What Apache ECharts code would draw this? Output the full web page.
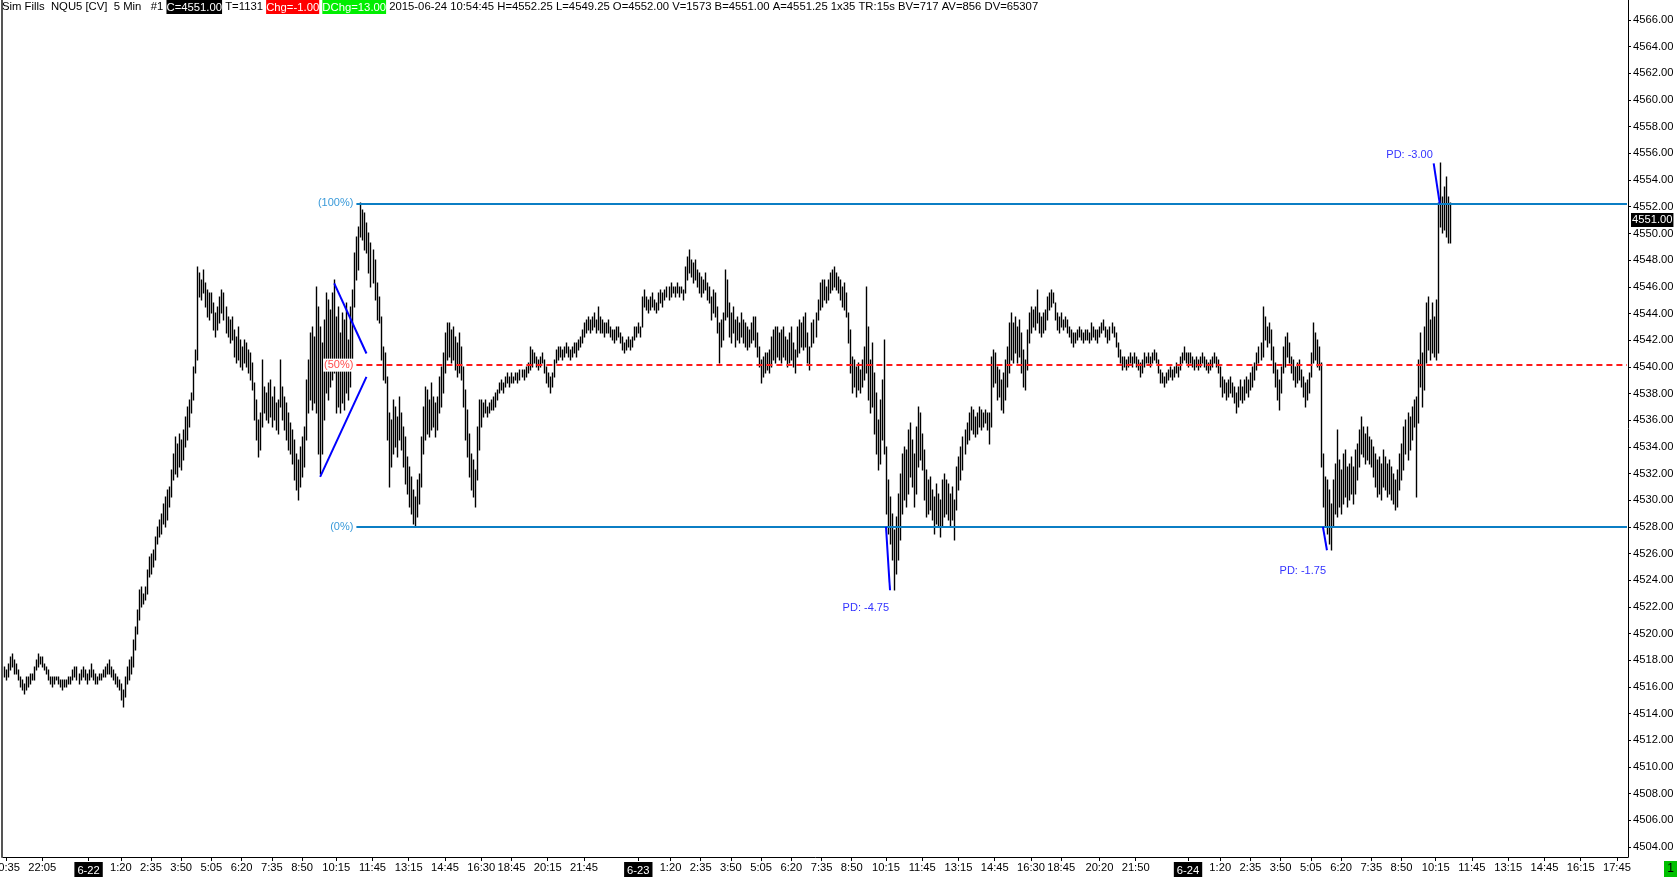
<!DOCTYPE html>
<html>
<head>
<meta charset="utf-8">
<title>NQU5 5 Min</title>
<script src="https://cdn.jsdelivr.net/npm/echarts@6/dist/echarts.min.js"></script>
<style>
html, body { margin: 0; padding: 0; background: #fff; }
#chartMain { width: 1679px; height: 877px; }
</style>
</head>
<body>
<div id="chartMain"></div>
<script>
var FONT = "'Liberation Sans', Arial, sans-serif";
var AXIS_SIZE = 11.2;

/*** 交易时段（5分钟K线，16:15-16:30 与 17:00-18:00 停盘） ***/
var sessions = [
    {day: '6-21', from: '20:30', to: '23:55', gaps: []},
    {day: '6-22', from: '0:00', to: '23:55', gaps: [['16:15', '16:25'], ['17:00', '17:55']]},
    {day: '6-23', from: '0:00', to: '23:55', gaps: [['16:15', '16:25'], ['17:00', '17:55']]},
    {day: '6-24', from: '0:00', to: '18:10', gaps: []}
];

// 底部时间刻度
var axisTimes = {
    '6-21': ['20:35', '22:05'],
    '6-22': ['0:00', '1:20', '2:35', '3:50', '5:05', '6:20', '7:35', '8:50', '10:15', '11:45', '13:15', '14:45', '16:30', '18:45', '20:15', '21:45'],
    '6-23': ['0:00', '1:20', '2:35', '3:50', '5:05', '6:20', '7:35', '8:50', '10:15', '11:45', '13:15', '14:45', '16:30', '18:45', '20:20', '21:50'],
    '6-24': ['0:00', '1:20', '2:35', '3:50', '5:05', '6:20', '7:35', '8:50', '10:15', '11:45', '13:15', '14:45', '16:15', '17:45']
};

// 右侧价格刻度
var priceTicks = [4504, 4506, 4508, 4510, 4512, 4514, 4516, 4518, 4520, 4522, 4524, 4526, 4528, 4530, 4532, 4534,
    4536, 4538, 4540, 4542, 4544, 4546, 4548, 4550, 4552, 4554, 4556, 4558, 4560, 4562, 4564, 4566];

/*** K线 [最低, 最高] ***/
var bars621 = [
[4516.75,4517.5],[4516.5,4517.25],[4516.75,4517.75],[4517.25,4518.25],[4517.5,4518.5],[4517,4518],[4517,4517.75],[4516.5,4517.25],[4516,4516.75],[4515.75,4516.5],
[4515.5,4516.25],[4515.75,4516.75],[4516,4516.75],[4516.25,4517],[4516.5,4517],[4516.5,4517.5],[4517.25,4518],[4517.5,4518.5],[4517.75,4518.25],[4517.5,4518.25],
[4517.25,4517.75],[4517,4517.5],[4516.5,4517.25],[4516.25,4516.75],[4516,4516.75],[4516.25,4516.75],[4516.5,4516.75],[4516.25,4516.75],[4516,4516.5],[4515.75,4516.5],
[4516,4516.5],[4516,4516.5],[4516.25,4516.75],[4516.25,4516.75],[4516.5,4517.25],[4516.75,4517.5],[4516.5,4517.5],[4516.25,4517],[4516.5,4517.25],[4516.75,4517.5],
[4516.5,4517.25],[4516.25,4517]
];

var bars622 = [
[4516.5,4517.25],[4516.75,4517.75],[4516.5,4517.25],[4516.25,4517],[4516.25,4516.75],[4516.5,4517],[4516.5,4517],[4516.75,4517.25],[4516.75,4517.5],[4517,4517.75],
[4517,4518],[4516.75,4517.5],[4516.5,4517.25],[4516.25,4517],[4516,4516.75],[4515.75,4516.5],[4515,4516.25],[4514.5,4515.75],[4515.25,4516.75],[4516.25,4517.5],
[4516.5,4518],[4517,4518.25],[4517.5,4519.5],[4518.75,4520.5],[4520,4521.75],[4521,4523.25],[4522,4523.5],[4522.25,4523],[4522.5,4523.5],[4523,4524.75],
[4524.25,4525.75],[4524.5,4526],[4525,4526.25],[4525.5,4527.25],[4526.75,4528],[4527.25,4528.5],[4527.5,4529],[4528.25,4529.75],[4528,4530.25],[4528.5,4530.75],
[4529.5,4531],[4530.25,4532.25],[4531.5,4533.5],[4532,4534.75],[4531.75,4534.25],[4532.5,4535],[4532.25,4534.5],[4533,4535.25],[4534,4536.25],[4534.5,4537],
[4535.5,4537.5],[4536.5,4538],[4537.5,4540],[4539.5,4541.25],[4540.5,4547.5],[4545.25,4547],[4545,4546.5],[4545.5,4547.25],[4544.5,4546.25],[4543.75,4545.75],
[4543.5,4545.5],[4544,4545.5],[4542.75,4544.75],[4542.25,4544],[4542.75,4544.5],[4543.25,4545.25],[4544,4545.75],[4543.5,4545.5],[4542.5,4544.5],[4542.25,4543.75],
[4541.75,4543.5],[4542,4543.75],[4540.75,4542.75],[4540.25,4542.25],[4540.5,4543],[4540,4542],[4539.75,4541.5],[4540.25,4542],[4540,4541.75],[4539.5,4541.25],
[4539,4541],[4538.25,4540.25],[4536,4538.75],[4534.5,4537.5],[4533.25,4536],[4533.75,4536.5],[4535.5,4540.5],[4536.5,4538.5],[4536,4538],[4535.75,4538.75],
[4536.25,4539],[4535.5,4537.75],[4536,4538.5],[4535.25,4537.25],[4535,4537.5],[4537,4540.5],[4536,4538.5],[4535.25,4537.75],[4534.5,4537.25],[4533.75,4536.5],
[4533.5,4535.75],[4532.75,4535.25],[4531.5,4534.5],[4530.75,4533.5],[4530,4533],[4531,4534],[4531.75,4534.75],[4532.5,4535.5],[4534.5,4539],[4536.5,4540.5],
[4537.5,4542.5],[4536.75,4543],[4537.25,4542.25],[4536.5,4546],[4533.5,4544.5],[4532,4543],[4533.5,4541.75],[4536,4543.5],[4538,4545.5],[4537.5,4545],
[4538.5,4544.25],[4539,4545.5],[4539.5,4546.5],[4536.5,4543.75],[4537,4544.5],[4536.5,4542.5],[4537.25,4544],[4536.75,4543.5],[4538,4544.75],[4537.5,4542],
[4538.5,4544.5],[4540.5,4545.75],[4544.5,4548.5],[4546.5,4549.75],[4547.25,4550.5],[4549.75,4552.25],[4549.5,4551.75],[4548.75,4551.5],[4548.5,4550.75],[4547,4550],
[4546,4549.25],[4546.25,4548.75],[4545,4548],[4543.5,4546.25],[4543.25,4545.25],[4540.5,4543.75],[4539,4541.5],[4538.75,4541],[4534.5,4539.25],[4531,4536.5],
[4532.5,4536],[4533.5,4537.5],[4534,4537],[4533.25,4536.25],[4534.5,4537.75],[4533.75,4536.5],[4532.5,4535.5],[4531.25,4534.75],[4530.5,4533.25],[4529.5,4532.5],
[4529,4531.75],[4528.25,4530.75],[4528,4530.25],[4528.75,4531.5],[4529.75,4532],[4531,4534.75],[4533.5,4537],[4534.5,4538.5],[4535,4538.25],[4534.75,4537.5],
[4535.25,4538.75],[4535.5,4537.75],[4534.75,4537.25],[4535.25,4537.75],[4536.5,4539.25],[4537,4540],[4538,4541],[4539.5,4542.5],[4540.5,4543.25],[4540.75,4543.25],
[4540.25,4542.75],[4540.5,4543],[4539.75,4542.25],[4539.25,4541.75],[4539.5,4542.5],[4539,4541.5],[4537,4540],[4534.5,4538.25],[4533.25,4536.75],[4531.75,4535],
[4530.75,4533.5],[4530.25,4533],[4529.5,4532.25],[4531.5,4535.5],[4533.75,4537.5],[4535.5,4537.5],[4536.25,4537.25],[4536.5,4537.5],[4536.25,4537],[4536.5,4537.25],
[4536.75,4537.5],[4536.75,4537.75],[4537,4538],[4537.5,4538.25],[4538,4538.75],[4538.25,4539],[4538,4538.75],[4538.5,4539.25],[4538.75,4539.5],[4538.5,4539.25],
[4538.75,4539.5],[4538.75,4539.25],[4539,4539.5],[4538.75,4539.5],[4539,4539.75],[4539.25,4539.75],[4539,4539.75],[4539.25,4540],[4539.5,4540.25],[4539.75,4541.5],
[4540,4541.25],[4540.25,4541],[4540,4540.75],[4539.75,4540.5],[4540,4540.75],[4540.25,4541],[4539.5,4540.5],[4538.75,4540],[4538.5,4539.5],[4538,4539.25],
[4538.5,4539.5],[4539.25,4540.5],[4540.25,4541.25],[4540.5,4541.5],[4540.75,4541.5],[4540.5,4541.25],[4540.75,4541.5],[4541,4541.75],[4540.75,4541.5],[4540.5,4541.25],
[4540.75,4541.5],[4541,4541.75],[4540.75,4541.75],[4541.25,4542],[4541.5,4542.25],[4541.75,4542.75],[4542.25,4543.25],[4542.5,4543.5],[4542.75,4543.75],[4542.5,4543.5],
[4542.75,4543.75],[4543,4544],[4542.5,4543.5],[4542.75,4544.5],[4542.5,4543.75],[4542.5,4543.5],[4542.25,4543.25],[4542.5,4543.25],[4542.5,4543.5],[4542.25,4543],
[4542,4542.75],[4541.75,4542.75],[4542,4543],[4542.25,4543],[4541.75,4542.5],[4541.25,4542.25],[4541,4541.75],[4541.25,4542],[4541.5,4542.25],[4541.25,4542],
[4541.5,4542.25],[4542,4543],[4542.25,4543]
];

var bars623 = [
[4542.5,4543.25],[4542.25,4543],[4543,4545.25],[4544.5,4545.75],[4544.25,4545.25],[4544,4545],[4544.25,4545.25],[4544.5,4545.5],[4544.25,4545],[4544,4544.75],
[4544.25,4545.5],[4544.75,4545.75],[4544.5,4545.5],[4545,4545.75],[4545.25,4546],[4545,4546],[4545.25,4546.25],[4545.5,4546],[4545.25,4546],[4545.5,4546.25],
[4545.25,4546],[4545.5,4546],[4545,4545.75],[4545.5,4547.5],[4546.5,4548.25],[4547,4548.75],[4546.75,4548],[4546.25,4547.75],[4546.5,4548],[4546,4547.25],
[4545.5,4547],[4545.25,4546.75],[4545.5,4546.5],[4545.75,4547],[4545,4546.25],[4544.75,4546],[4543.5,4545.25],[4544,4545.75],[4543.75,4545.5],[4542.5,4544.5],
[4540.25,4543.25],[4541.5,4543.5],[4542,4544],[4543.5,4547.25],[4543.75,4546.5],[4542.25,4544.75],[4541.75,4544],[4542.5,4544.5],[4541.5,4543.5],[4542,4543.75],
[4541.75,4543.25],[4542.25,4544],[4541.75,4543.5],[4541.5,4543.25],[4541.25,4543],[4541.5,4542.75],[4541.75,4543.25],[4542,4543.75],[4541.5,4543.75],[4540.75,4542.5],
[4540,4541.5],[4538.75,4540.5],[4539.25,4540.75],[4539.5,4541],[4539.75,4541],[4539.5,4541.25],[4540,4542.25],[4540.5,4542.75],[4540.25,4543],[4540.75,4543],
[4540.5,4542.5],[4540.25,4542.75],[4540.75,4543],[4540.5,4542.25],[4540,4542],[4540.25,4542.5],[4540.5,4543],[4540,4541.75],[4539.5,4541.25],[4540.75,4543],
[4541,4543.5],[4541.5,4543.25],[4541.25,4543.75],[4541.5,4544],[4540.25,4542.5],[4539.75,4541.5],[4541.5,4543.25],[4541.75,4543.5],[4542.25,4544],[4543.5,4545],
[4544.25,4546.25],[4544.5,4546.5],[4545,4546.5],[4544.75,4546],[4545,4546.5],[4545.5,4547],[4545.75,4547.25],[4546,4547.5],[4545.75,4547],[4545.5,4546.75],
[4545,4546.5],[4544.5,4546],[4544.25,4546.25],[4543.75,4545.5],[4541.75,4544],[4539.5,4542.75],[4538,4540.75],[4538.5,4540.5],[4537.75,4540],[4538.25,4540.25],
[4538,4539.75],[4538.5,4540.5],[4539,4541.5],[4539.5,4546],[4537.5,4543],[4536.5,4540.5],[4537,4541.75],[4535,4539.5],[4533.5,4538],[4532.25,4536],
[4532.75,4537.5],[4534.5,4539],[4533.5,4542],[4529,4534],[4527.5,4531.5],[4526.75,4530.25],[4525.5,4529],[4523.25,4527.75],[4524.5,4528.75],[4525.5,4530.5],
[4527,4532],[4529,4533.5],[4530,4534],[4529.5,4533.75],[4530.5,4535.25],[4531.75,4535.75],[4531,4534.5],[4529.5,4533.5],[4530.5,4535.5],[4532.5,4537],
[4533,4536.5],[4532.25,4535],[4530,4533.75],[4528.75,4532.25],[4529,4531.5],[4529.25,4531.75],[4528.5,4530.75],[4527.5,4530.25],[4528.25,4531.25],[4528,4530.5],
[4527.25,4530],[4528,4531.5],[4528.75,4532],[4529,4531.5],[4528.5,4531.25],[4528,4530.5],[4528.5,4531],[4527,4530],[4529.25,4532.5],[4530.75,4533.25],
[4531.5,4534],[4532.25,4534.75],[4533.5,4535.25],[4534.25,4535.75],[4534.5,4536.5],[4535.25,4537],[4535,4536.75],[4534.75,4536.25],[4535,4536.5],[4535.5,4537],
[4535.25,4536.75],[4535.5,4536.5],[4535.75,4536.75],[4535.25,4536.5],[4534.25,4536.5],[4535.5,4540.75],[4538.5,4541.25],[4538.75,4541],[4537.5,4540],[4537.75,4539.75],
[4536.75,4539],[4536.5,4539.5],[4537.5,4540.5],[4538.5,4541.5],[4539.5,4543.25],[4540.5,4544],[4540.25,4543.25],[4541,4543.75],[4540.25,4543],[4540.75,4543.5],
[4539.5,4542.5],[4538.5,4541.25],[4538.25,4540.5],[4539.75,4542.75],[4541.75,4544],[4542.5,4544.5],[4543,4544.25],[4542.75,4544.5],[4543.25,4545.75],[4542.5,4544],
[4542.25,4543.75],[4542.5,4544],[4542.75,4544.25],[4543.5,4545.25],[4544.25,4545.5],[4544.5,4545.75],[4544.75,4545.5],[4543.5,4544.75],[4542.75,4544],[4542.5,4543.75],
[4543,4544],[4542.75,4543.5],[4543,4543.75],[4542.5,4543.5],[4542.25,4543],[4541.75,4542.75],[4541.5,4542.5],[4541.75,4542.5],[4542,4542.75],[4542.25,4543],
[4542,4542.75],[4541.75,4542.5],[4542,4542.75],[4542,4542.75],[4541.75,4542.5],[4542,4543.25],[4542.25,4543],[4542,4542.75],[4541.75,4542.75],[4542.25,4543],
[4542.5,4543.25],[4542.75,4543.5],[4542.25,4543],[4541.75,4542.75],[4542,4543],[4542.5,4543.25],[4542.25,4543],[4541.5,4542.5],[4540.75,4541.75],[4540.25,4541.25],
[4539.75,4540.75],[4540,4540.75],[4539.75,4540.5],[4540,4540.75],[4540.25,4541],[4540,4540.75],[4540.25,4541],[4540,4540.75],[4539.75,4540.5],[4539.25,4540.25],
[4539.5,4540.5],[4540,4541],[4540.25,4540.75],[4540.25,4541],[4540,4540.75],[4540.25,4541],[4540.5,4541.25],[4540.25,4541],[4539.5,4540.5],[4538.75,4539.75],
[4538.75,4539.5],[4538.5,4539.25],[4538.75,4539.5],[4539,4539.75],[4539.25,4540],[4539,4539.75],[4539.25,4540],[4539.5,4540.25],[4539.25,4540],[4539.75,4540.75],
[4540.25,4541],[4540.5,4541.5],[4540.25,4541]
];

var bars624 = [
[4540,4541],[4540.25,4541],[4540,4540.75],[4539.75,4540.5],[4540,4540.75],[4539.75,4540.5],[4540,4540.75],[4540.25,4541],[4540,4540.75],[4539.75,4540.5],
[4539.5,4540.25],[4539.75,4540.5],[4540,4540.75],[4540.25,4541],[4540,4540.75],[4539.5,4540.5],[4538.5,4540],[4537.75,4539.25],[4538,4539],[4537.5,4538.75],
[4537.75,4539],[4538,4539.25],[4537.75,4538.75],[4537.25,4538.5],[4536.5,4538],[4537,4538.5],[4537.5,4539],[4537.25,4538.5],[4537.5,4539],[4538,4539.25],
[4537.75,4539],[4538.25,4539.5],[4538.5,4540],[4539,4540.25],[4539.75,4541],[4540.25,4541.5],[4540.5,4541.75],[4540.75,4544.5],[4542,4543.75],[4541.5,4543],
[4541.75,4543.25],[4540.5,4542.75],[4539.5,4541.5],[4538.5,4540.25],[4537.5,4539.75],[4536.75,4539],[4538,4540],[4539.5,4541.5],[4540,4542.25],[4540.75,4542.5],
[4540.25,4541.75],[4539.5,4540.75],[4539,4540.5],[4538.5,4540],[4538.75,4540.25],[4539,4540.5],[4538.5,4539.75],[4537.75,4539.25],[4537,4538.75],[4537.5,4539],
[4538,4539.5],[4539.25,4541],[4540.25,4543.25],[4540.5,4542.5],[4540,4542],[4539.75,4541.5],[4532.5,4540.25],[4529.5,4533.5],[4528,4531.75],[4527.5,4531.5],
[4526.75,4530.75],[4526.25,4529.75],[4528,4531.5],[4529,4532.75],[4528.75,4535.25],[4529.5,4533],[4529,4532.25],[4529.75,4533.5],[4530.25,4533.75],[4529.5,4532.5],
[4530,4532.75],[4530.5,4533.25],[4529.75,4532.5],[4530.5,4533.75],[4531.5,4534.25],[4532.5,4535.25],[4533.5,4536.25],[4533.25,4535.5],[4532.75,4535],[4533,4535.5],
[4532.75,4534.75],[4532.5,4534.5],[4531.75,4534],[4531,4533.5],[4530.25,4533],[4530.5,4533.25],[4530,4532.75],[4531,4533.75],[4530.75,4533.25],[4530.25,4532.75],
[4530.5,4533],[4530,4532.5],[4529.75,4532],[4529.25,4531.5],[4529.5,4532.25],[4530.75,4533.5],[4531.5,4534.25],[4532.25,4535.5],[4533.5,4536],[4533,4536.5],
[4533.75,4536.25],[4534.5,4537],[4535.5,4537.5],[4530.25,4537.75],[4535.75,4540.5],[4538.5,4542.5],[4537,4541],[4538.25,4543],[4540.25,4544.75],[4541.25,4545.25],
[4540.5,4543.5],[4541,4544.75],[4540.75,4543.75],[4540.5,4545],[4541,4552.25],[4550.5,4555.25],[4550,4552.75],[4550.25,4553.5],[4549.75,4554.25],[4549.25,4552.75],
[4549.25,4552.25]
];

var lastPrice = 4551.00;

/*** 画线：斐波那契、楔形、PD ***/
var fibStart = 175;
var fibLevels = [['(100%)', 4552.25], ['(50%)', 4540.125], ['(0%)', 4528.00]];
var wedgeLines = [[[164, 4546.25], [180, 4541.00]], [[157, 4531.75], [180, 4539.25]]];
var pdLines = [[[438, 4528.00], [440, 4523.25]], [[655, 4528.00], [657, 4526.25]], [[710, 4555.25], [713, 4552.25]]];
var pdTexts = [['PD: -4.75', 428, 4521.9], ['PD: -1.75', 645, 4524.7], ['PD: -3.00', 698, 4555.85]];

/*** 标题文字 ***/
var headParts = [
    ['n', 'Sim Fills  NQU5 [CV]  5 Min   #1 '],
    ['b', 'C=4551.00'],
    ['n', ' T=1131 '],
    ['r', 'Chg=-1.00'],
    ['n', ' '],
    ['g', 'DChg=13.00'],
    ['n', ' 2015-06-24 10:54:45 H=4552.25 L=4549.25 O=4552.00 V=1573 B=4551.00 A=4551.25 1x35 TR:15s BV=717 AV=856 DV=65307']
];

function toMin(s) {
    var p = s.split(':');
    return (+p[0]) * 60 + (+p[1]);
}
function fmtMin(m) {
    var h = Math.floor(m / 60), mm = m % 60;
    return h + ':' + (mm < 10 ? '0' + mm : mm);
}

// 生成类目轴
var categories = [];
var dayStart = {};
sessions.forEach(function(s) {
    dayStart[s.day] = categories.length;
    for (var t = toMin(s.from); t <= toMin(s.to); t += 5) {
        var skip = s.gaps.some(function(g) { return t >= toMin(g[0]) && t <= toMin(g[1]); });
        if (!skip) categories.push(s.day + ' ' + fmtMin(t));
    }
});

var labelSet = {};
Object.keys(axisTimes).forEach(function(d) {
    axisTimes[d].forEach(function(t) { labelSet[d + ' ' + t] = true; });
});

var barData = [];
[['6-21', bars621], ['6-22', bars622], ['6-23', bars623], ['6-24', bars624]].forEach(function(item) {
    var off = dayStart[item[0]];
    item[1].forEach(function(b, i) {
        barData.push([off + i, b[0], b[1]]);
    });
});

var lastCat = categories.length - 1;

function showLabel(idx) {
    return !!labelSet[categories[idx]];
}

var markLines = [];
var fibColor = {'(100%)': '#0b7ec4', '(50%)': '#ff1a1a', '(0%)': '#0b7ec4'};
var fibText = {'(100%)': '#3a9ad9', '(50%)': '#ff4d4d', '(0%)': '#3a9ad9'};
fibLevels.forEach(function(f) {
    var dashed = f[0] === '(50%)';
    markLines.push([
        {coord: [fibStart, f[1]],
         lineStyle: {color: fibColor[f[0]], width: 2, type: dashed ? [6, 4] : 'solid'},
         label: {show: true, position: 'start', formatter: f[0], color: fibText[f[0]], fontFamily: FONT,
             fontSize: 11, distance: 2, backgroundColor: '#fff', padding: [1, 1]}},
        {coord: [lastCat, f[1]]}
    ]);
});
wedgeLines.concat(pdLines).forEach(function(l) {
    markLines.push([
        {coord: l[0], lineStyle: {color: '#0000ff', width: 2, type: 'solid'}, label: {show: false}},
        {coord: l[1]}
    ]);
});
markLines.push({
    yAxis: lastPrice,
    lineStyle: {color: 'rgba(0,0,0,0)', width: 0},
    label: {show: true, position: 'end', distance: 3, formatter: lastPrice.toFixed(2),
        backgroundColor: '#000', color: '#fff', fontFamily: FONT, fontSize: AXIS_SIZE, padding: [2, 1, 1, 1]}
});

var richHead = {
    n: {color: '#000', fontFamily: FONT, fontSize: 11.3, fontWeight: 'normal'},
    b: {color: '#fff', backgroundColor: '#000', fontFamily: FONT, fontSize: 11.3, fontWeight: 'normal', padding: [2, 0, 1, 0]},
    r: {color: '#fff', backgroundColor: '#ff0000', fontFamily: FONT, fontSize: 11.3, fontWeight: 'normal', padding: [2, 0, 1, 0]},
    g: {color: '#fff', backgroundColor: '#00ee00', fontFamily: FONT, fontSize: 11.3, fontWeight: 'normal', padding: [2, 0, 1, 0]}
};

var myChart = echarts.init(document.getElementById('chartMain'), null, {renderer: 'canvas'});

var option = {
    animation: false,
    backgroundColor: '#fff',
    title: {
        left: 2, top: 0, padding: [0, 0],
        text: headParts.map(function(p) { return '{' + p[0] + '|' + p[1] + '}'; }).join(''),
        textStyle: {fontWeight: 'normal', fontSize: 11.3, rich: richHead}
    },
    grid: {left: 3, right: 51, top: 0, bottom: 20, containLabel: false, outerBoundsMode: 'none'},
    xAxis: {
        type: 'category',
        data: categories,
        boundaryGap: true,
        axisLine: {show: true, lineStyle: {color: '#000', width: 1}},
        axisTick: {show: true, interval: showLabel, alignWithLabel: true, length: 4, lineStyle: {color: '#000'}},
        axisLabel: {
            interval: showLabel,
            margin: 5,
            color: '#000',
            fontFamily: FONT,
            fontSize: AXIS_SIZE,
            hideOverlap: false,
            formatter: function(val) {
                var p = val.split(' ');
                return p[1] === '0:00' ? '{d|' + p[0] + '}' : p[1];
            },
            rich: {d: {color: '#fff', backgroundColor: '#000', fontFamily: FONT, fontSize: AXIS_SIZE, padding: [3, 3, 2, 3]}}
        },
        splitLine: {show: false}
    },
    yAxis: [{
        type: 'value',
        position: 'right',
        min: 4503.25,
        max: 4567.5,
        axisLine: {show: true, lineStyle: {color: '#000', width: 1}},
        axisTick: {show: true, customValues: priceTicks, length: 3, lineStyle: {color: '#000'}},
        axisLabel: {
            customValues: priceTicks,
            margin: 5,
            color: '#000',
            fontFamily: FONT,
            fontSize: AXIS_SIZE,
            formatter: function(v) { return v.toFixed(2); }
        },
        splitLine: {show: false}
    }, {
        type: 'value',
        position: 'left',
        offset: 1,
        min: 4503.25,
        max: 4567.5,
        axisLine: {show: true, lineStyle: {color: '#555', width: 2}},
        axisTick: {show: false},
        axisLabel: {show: false},
        splitLine: {show: false}
    }],
    series: [{
        type: 'custom',
        name: 'NQU5',
        encode: {x: 0, y: [1, 2]},
        data: barData,
        renderItem: function(params, api) {
            var lo = api.coord([api.value(0), api.value(1)]);
            var hi = api.coord([api.value(0), api.value(2)]);
            var x = Math.round(lo[0]) + 0.5;
            return {
                type: 'line',
                shape: {x1: x, y1: Math.round(lo[1]) + 0.5, x2: x, y2: Math.round(hi[1]) - 0.5},
                style: {stroke: '#000', lineWidth: 1.4}
            };
        },
        markLine: {
            silent: true,
            z: 5,
            symbol: ['none', 'none'],
            animation: false,
            data: markLines
        },
        markPoint: {
            silent: true,
            z: 5,
            symbol: 'rect',
            symbolSize: 1,
            itemStyle: {color: 'rgba(0,0,0,0)'},
            animation: false,
            data: pdTexts.map(function(t) {
                return {
                    name: t[0], coord: [t[1], t[2]],
                    label: {show: true, position: 'inside', formatter: '{b}', color: '#3333ff', fontFamily: FONT, fontSize: 11}
                };
            })
        }
    }],
    graphic: [
        {type: 'rect', right: 2, bottom: 0, shape: {width: 13, height: 16}, style: {fill: '#00c000'}},
        {type: 'text', right: 5, bottom: 2, style: {text: '1', fill: '#000', font: '12px ' + FONT}}
    ]
};

myChart.setOption(option);
</script>
</body>
</html>
